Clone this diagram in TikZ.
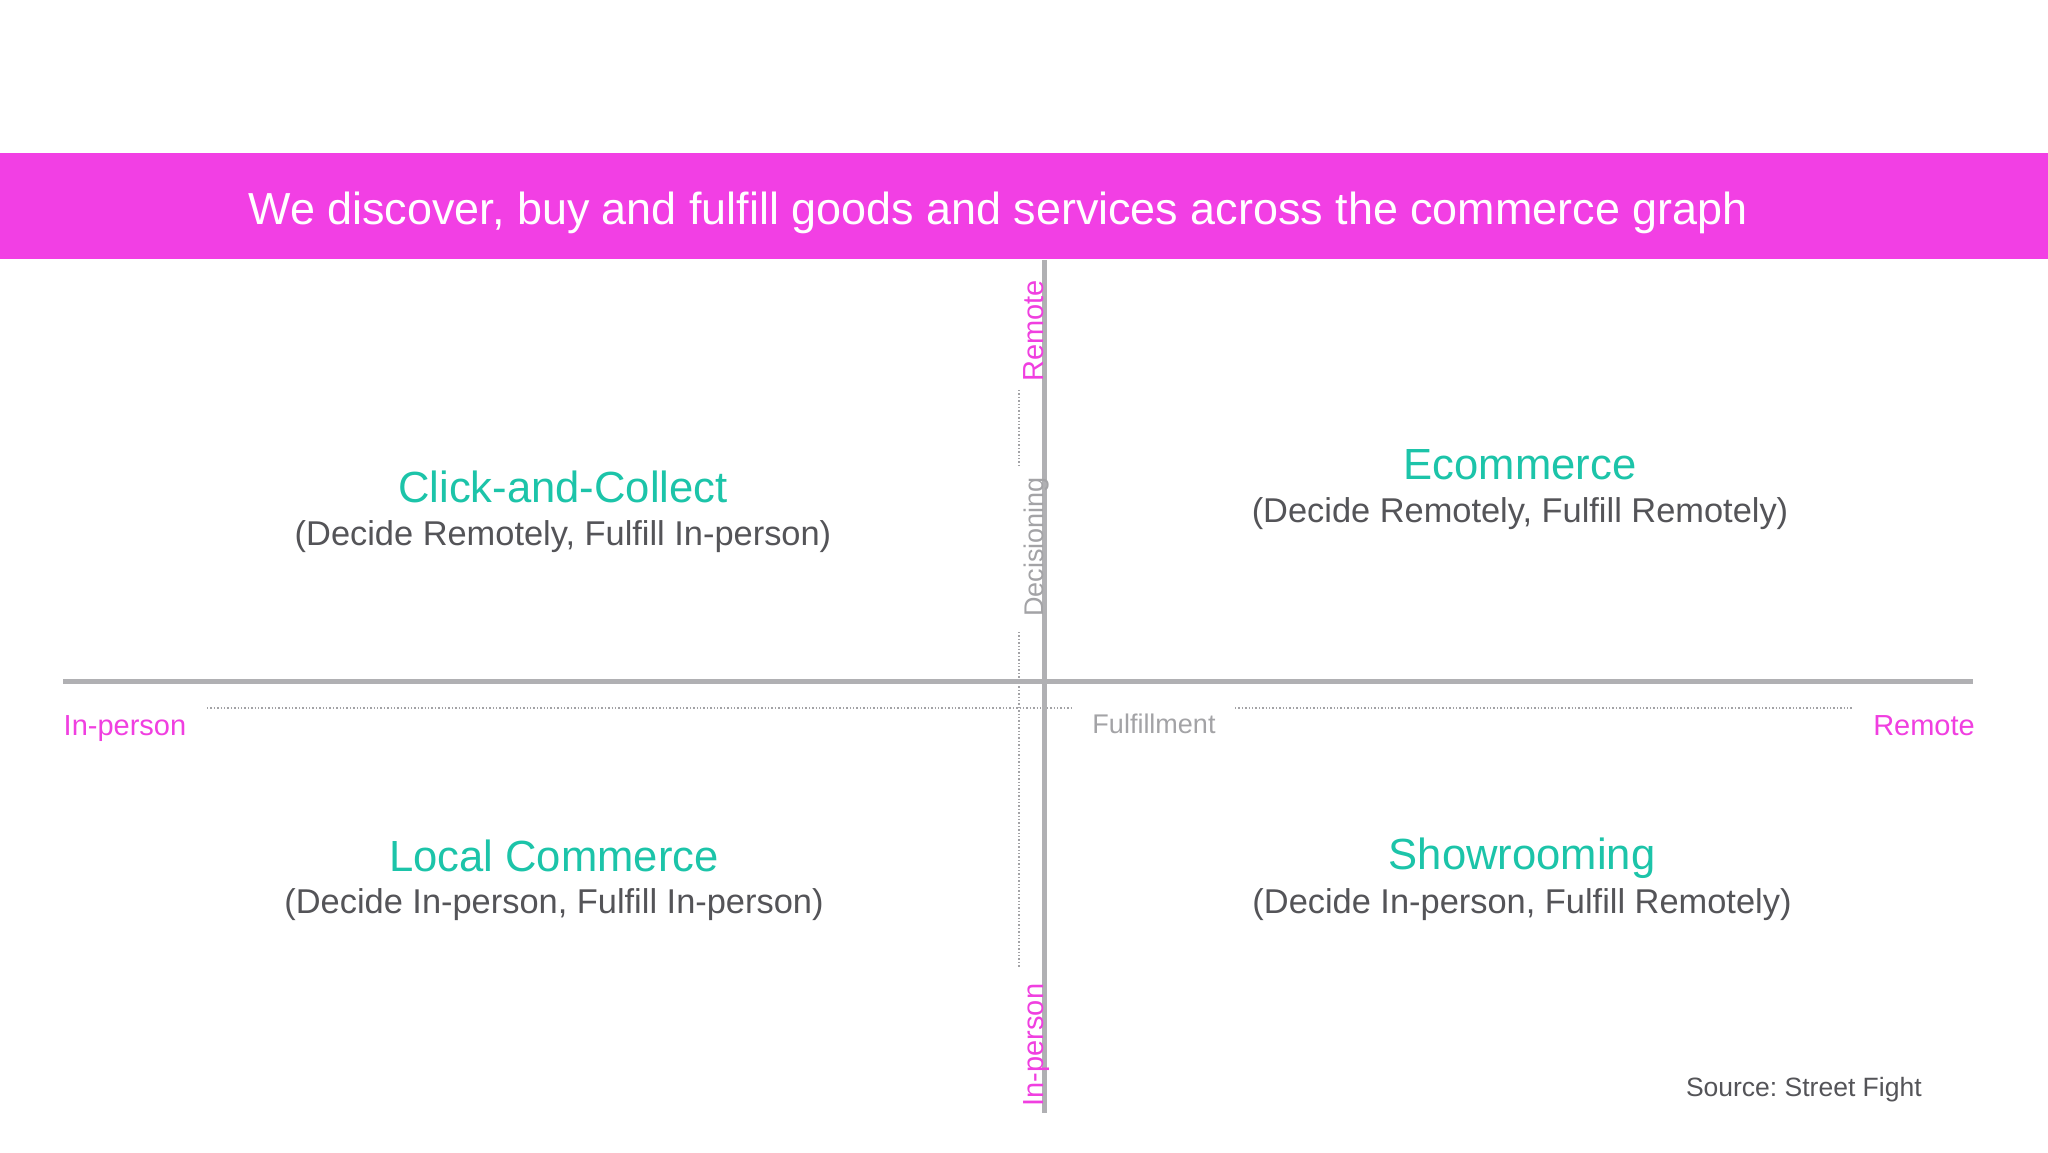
\documentclass[tikz,border=0pt]{standalone}
\usepackage{fontspec}
\setmainfont{Liberation Sans}
\frenchspacing
\definecolor{bandmag}{HTML}{F23FE4}
\definecolor{labmag}{HTML}{F03FE0}
\definecolor{teal}{HTML}{1CC4A9}
\definecolor{darktxt}{HTML}{545458}
\definecolor{axisgray}{HTML}{B0B0B3}
\definecolor{lightgray}{HTML}{A3A3A6}
\newcommand{\fs}[1]{\fontsize{#1}{#1}\selectfont}
\tikzset{
  every node/.style={inner sep=0pt, outer sep=0pt},
  qtitle/.style={anchor=base, text=teal, font=\fs{43.6}},
  qsub/.style={anchor=base, text=darktxt, font=\fs{34.4}},
  axlab/.style={anchor=base, text=labmag, font=\fs{29}},
  axname/.style={anchor=base, text=lightgray, font=\fs{27}},
  axisline/.style={draw=axisgray, line width=5pt},
  dotline/.style={draw=lightgray, line width=1.3pt, dash pattern=on 1.3pt off 2.1pt},
}
\begin{document}
\begin{tikzpicture}[x=1pt, y=-1pt]
\useasboundingbox (0,0) rectangle (2048,1152);
\fill[white] (0,0) rectangle (2048,1152);
% title band
\fill[bandmag] (0,153) rectangle (2048,259);
\node[anchor=base, text=white, font=\fs{44.9}] (title) at (998,224.5) {We discover, buy and fulfill goods and services across the commerce graph};
% coordinates
\coordinate (vtop) at (1044,260);
\coordinate (vbot) at (1044,1113);
\coordinate (hl) at (63,681);
\coordinate (hr) at (1973,681);
\coordinate (d1a) at (207,708);
\coordinate (d1b) at (1073,708);
\coordinate (d2a) at (1235,708);
\coordinate (d2b) at (1853,708);
\coordinate (v1a) at (1019,390);
\coordinate (v1b) at (1019,467);
\coordinate (v2a) at (1019,632);
\coordinate (v2b) at (1019,968);
% dotted guides
\draw[dotline] (d1a) -- (d1b);
\draw[dotline] (d2a) -- (d2b);
\draw[dotline] (v1a) -- (v1b);
\draw[dotline] (v2a) -- (v2b);
% axes
\draw[axisline] (vtop) -- (vbot);
\draw[axisline] (hl) -- (hr);
% axis labels
\node[axlab] (inl) at (125,735) {In-person};
\node[axlab] (remr) at (1924,735) {Remote};
\node[axname] (ful) at (1154,733) {Fulfillment};
\node[axlab, rotate=90] (remv) at (1043,331) {Remote};
\node[axname, rotate=90] (dec) at (1043,547) {Decisioning};
\node[axlab, rotate=90] (inv) at (1043,1045) {In-person};
% quadrants
\node[qtitle] (cc) at (563,502) {Click-and-Collect};
\node[qsub] (ccs) at (563,545) {(Decide Remotely, Fulfill In-person)};
\node[qtitle] (ec) at (1520,479) {Ecommerce};
\node[qsub] (ecs) at (1520,522) {(Decide Remotely, Fulfill Remotely)};
\node[qtitle] (lc) at (554,871) {Local Commerce};
\node[qsub] (lcs) at (554,913) {(Decide In-person, Fulfill In-person)};
\node[qtitle] (sr) at (1522,869) {Showrooming};
\node[qsub] (srs) at (1522,913) {(Decide In-person, Fulfill Remotely)};
% source
\node[anchor=base west, text=darktxt, font=\fs{26.5}] (src) at (1686,1096) {Source: Street Fight};
\end{tikzpicture}
\end{document}
